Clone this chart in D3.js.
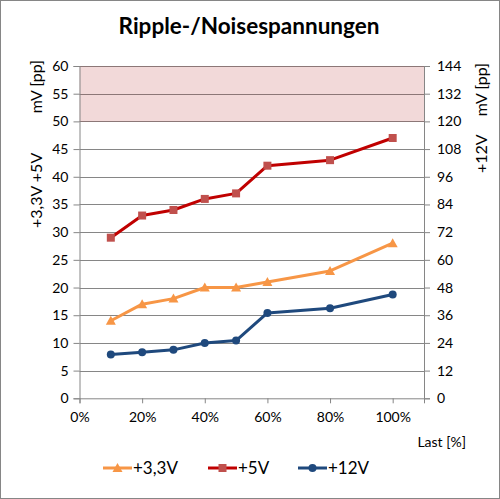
<!DOCTYPE html>
<html><head><meta charset="utf-8">
<script src="https://cdn.jsdelivr.net/npm/d3@7"></script>
<style>body{margin:0;background:#fff}svg{display:block}</style>
</head><body>
<svg id="c" width="500" height="499"></svg>
<script>
const loads = [0.1,0.2,0.3,0.4,0.5,0.6,0.8,1.0];
const v33 = [14,17,18,20,20,21,23,28];
const v5 = [29,33,34,36,37,42,43,47];
const v12 = [19,20,21,24,25,37,39,45];
const leftTicks = [0,5,10,15,20,25,30,35,40,45,50,55,60];
const rightTicks = [0,12,24,36,48,60,72,84,96,108,120,132,144];
const xTicks = [0,0.2,0.4,0.6,0.8,1.0];
const band = [50,60];

const svg = d3.select("#c");
const font = "Lato, 'Open Sans', sans-serif";
svg.append("rect").attr("x",0.5).attr("y",0.5).attr("width",499).attr("height",498)
  .attr("fill","#fff").attr("stroke","#868686");

const L=79.5, R=424, T=66, B=398.3;
const x = d3.scaleLinear().domain([0,1.1]).range([L,R]);
const yL = d3.scaleLinear().domain([0,60]).range([B,T]);
const yR = d3.scaleLinear().domain([0,144]).range([B,T]);

// band
svg.append("rect").attr("x",L).attr("y",yL(band[1])).attr("width",R-L).attr("height",yL(band[0])-yL(band[1]))
  .attr("fill","#f2d9d9");

// gridlines
svg.append("g").selectAll("line").data(leftTicks.filter(d=>d>0)).join("line")
  .attr("x1",L).attr("x2",R).attr("y1",d=>Math.round(yL(d))+0.5).attr("y2",d=>Math.round(yL(d))+0.5)
  .attr("stroke",d=>d>=50?"#8c7777":"#868686").attr("stroke-width",1);

// axes
const gl = svg.append("g").attr("transform",`translate(${L},0)`)
  .call(d3.axisLeft(yL).tickValues(leftTicks).tickSize(6).tickPadding(5));
const gr = svg.append("g").attr("transform",`translate(${R},0)`)
  .call(d3.axisRight(yR).tickValues(rightTicks).tickSize(6).tickPadding(7));
const gx = svg.append("g").attr("transform",`translate(0,${B})`)
  .call(d3.axisBottom(x).tickValues(xTicks).tickFormat(d3.format(".0%")).tickSize(5).tickPadding(9));
[gl,gr,gx].forEach(g=>{
  g.select(".domain").attr("stroke","#868686");
  g.selectAll(".tick line").attr("stroke","#868686");
  g.selectAll(".tick text").attr("font-family",font).attr("font-size",14).attr("fill","#000");
});
gx.selectAll(".tick text").attr("dy","0.71em");

// lines
const series = [
  {name:"+3,3V", vals:v33, y:yL, line:"#f79646", mark:"#f79646", shape:"tri"},
  {name:"+5V", vals:v5, y:yL, line:"#c00000", mark:"#c0504d", shape:"sq"},
  {name:"+12V", vals:v12, y:yR, line:"#1f497d", mark:"#1f497d", shape:"circ"}
];
function marker(g, shape, color, cx, cy){
  if(shape==="sq") g.append("rect").attr("x",cx-4).attr("y",cy-4).attr("width",8).attr("height",8).attr("fill",color);
  else if(shape==="tri") g.append("path").attr("d",`M${cx},${cy-5}L${cx+5},${cy+4}L${cx-5},${cy+4}Z`).attr("fill",color);
  else g.append("circle").attr("cx",cx).attr("cy",cy).attr("r",4).attr("fill",color);
}
series.forEach(s=>{
  const pts = loads.map((l,i)=>[x(l), s.y(s.vals[i])]);
  svg.append("path").attr("d",d3.line()(pts)).attr("fill","none").attr("stroke",s.line)
    .attr("stroke-width",3).attr("stroke-linejoin","round").attr("stroke-linecap","round");
  const g = svg.append("g");
  pts.forEach(p=>marker(g,s.shape,s.mark,p[0],p[1]));
});

// title
svg.append("text").attr("x",249).attr("y",34).attr("text-anchor","middle").attr("font-family",font)
  .attr("font-weight","bold").attr("font-size",22.5).text("Ripple-/Noisespannungen");

// axis titles
svg.append("text").attr("transform","translate(42,60) rotate(-90)").attr("text-anchor","end")
  .attr("font-family",font).attr("font-size",16).text("mV [pp]");
svg.append("text").attr("transform","translate(42,228) rotate(-90)").attr("text-anchor","start")
  .attr("font-family",font).attr("font-size",16).text("+3,3V +5V");
svg.append("text").attr("transform","translate(487,63) rotate(-90)").attr("text-anchor","end")
  .attr("font-family",font).attr("font-size",16).text("mV [pp]");
svg.append("text").attr("transform","translate(487,173) rotate(-90)").attr("text-anchor","start")
  .attr("font-family",font).attr("font-size",16).text("+12V");
svg.append("text").attr("x",466).attr("y",447).attr("text-anchor","end")
  .attr("font-family",font).attr("font-size",14).text("Last [%]");

// legend
const legX = [103,208,298];
series.forEach((s,i)=>{
  const lx = legX[i], ly = 468;
  svg.append("line").attr("x1",lx).attr("x2",lx+29).attr("y1",ly).attr("y2",ly)
    .attr("stroke",s.line).attr("stroke-width",3);
  marker(svg, s.shape, s.mark, lx+14.5, ly);
  svg.append("text").attr("x",lx+30).attr("y",ly+6).attr("font-family",font).attr("font-size",17).text(s.name);
});
</script>
</body></html>
